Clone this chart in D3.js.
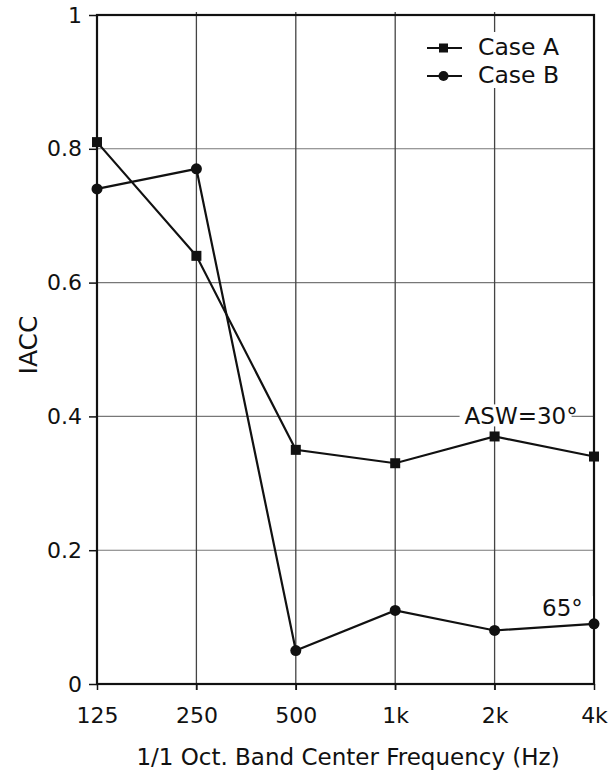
<!DOCTYPE html>
<html>
<head>
<meta charset="utf-8">
<script src="https://cdn.jsdelivr.net/npm/d3@7"></script>
<style>
  body { margin: 0; background: #fff; }
  text { font-family: "DejaVu Sans", "Liberation Sans", Arial, sans-serif; fill: #111; }
</style>
</head>
<body>
<div id="chart"></div>
<script>
// data
var bands = ["125", "250", "500", "1k", "2k", "4k"];
var caseA = [0.81, 0.64, 0.35, 0.33, 0.37, 0.34];
var caseB = [0.74, 0.77, 0.05, 0.11, 0.08, 0.09];
var yTicks = [0, 0.2, 0.4, 0.6, 0.8, 1];
var yTickLabels = ["0", "0.2", "0.4", "0.6", "0.8", "1"];

var w = 609, h = 771,
    margin = {top: 15, right: 15, bottom: 87, left: 97};

var svg = d3.select("#chart").append("svg")
    .attr("width", w)
    .attr("height", h)
    .style("background-color", "white");

var width = w - margin.left - margin.right,
    height = h - margin.top - margin.bottom,
    g = svg.append("g").attr("transform", "translate(" + margin.left + "," + margin.top + ")");

var x = d3.scalePoint().domain(bands).range([0, width]);
var y = d3.scaleLinear().domain([0, 1]).range([height, 0]);

// grid
g.selectAll(".hgrid").data(yTicks.slice(1, 5)).enter().append("line")
    .attr("x1", 0).attr("x2", width)
    .attr("y1", function (d) { return y(d); })
    .attr("y2", function (d) { return y(d); })
    .attr("stroke", "#777").attr("stroke-width", 1.1);

g.selectAll(".vgrid").data(bands.slice(1, 5)).enter().append("line")
    .attr("x1", function (d) { return x(d); })
    .attr("x2", function (d) { return x(d); })
    .attr("y1", -3).attr("y2", height + 6)
    .attr("stroke", "#444").attr("stroke-width", 1.3);

// axes
var yAxis = d3.axisLeft(y).tickValues(yTicks)
    .tickFormat(function (d, i) { return yTickLabels[i]; })
    .tickSize(8).tickPadding(7);
var xAxis = d3.axisBottom(x).tickSize(6).tickPadding(17);

var ay = g.append("g").attr("class", "axisY").call(yAxis);
var ax = g.append("g").attr("class", "axisX")
    .attr("transform", "translate(0," + height + ")").call(xAxis);

[ay, ax].forEach(function (a) {
    a.select(".domain").remove();
    a.selectAll("line").attr("stroke", "#111").attr("stroke-width", 1.5);
    a.selectAll("text").style("font-size", "22px").attr("fill", "#111")
        .style("font-family", "'DejaVu Sans', sans-serif");
});

// frame
g.append("rect")
    .attr("x", 0).attr("y", 0)
    .attr("width", width).attr("height", height)
    .attr("fill", "none").attr("stroke", "#111").attr("stroke-width", 2.2);

// annotations (white box breaks the grid line behind them)
var ann = [
    {text: "ASW=30°", band: "2k", val: 0.40, dx: -30, dy: 8},
    {text: "65°", band: "4k", val: 0.10, dx: -52, dy: -1}
];

var annG = g.selectAll(".ann").data(ann).enter().append("g");
annG.append("rect")
    .attr("x", function (d) { return x(d.band) + d.dx - 5; })
    .attr("y", function (d) { return y(d.val) + d.dy - 20; })
    .attr("width", function (d) { return d.text.length * 14 + 14; })
    .attr("height", 22)
    .attr("fill", "white");
annG.append("text")
    .attr("x", function (d) { return x(d.band) + d.dx; })
    .attr("y", function (d) { return y(d.val) + d.dy; })
    .style("font-size", "23px")
    .text(function (d) { return d.text; });

// series
var line = d3.line()
    .x(function (d, i) { return x(bands[i]); })
    .y(function (d) { return y(d); });

g.append("path").datum(caseA)
    .attr("d", line).attr("fill", "none")
    .attr("stroke", "#111").attr("stroke-width", 2.2);
g.append("path").datum(caseB)
    .attr("d", line).attr("fill", "none")
    .attr("stroke", "#111").attr("stroke-width", 2.2);

g.selectAll(".ptA").data(caseA).enter().append("rect")
    .attr("x", function (d, i) { return x(bands[i]) - 5; })
    .attr("y", function (d) { return y(d) - 5; })
    .attr("width", 10).attr("height", 10)
    .attr("fill", "#111");

g.selectAll(".ptB").data(caseB).enter().append("circle")
    .attr("cx", function (d, i) { return x(bands[i]); })
    .attr("cy", function (d) { return y(d); })
    .attr("r", 5.5)
    .attr("fill", "#111");

// legend
var legend = g.append("g").attr("transform", "translate(" + (427 - margin.left) + "," + (48 - margin.top) + ")");
legend.append("rect").attr("x", -4).attr("y", -16).attr("width", 140).attr("height", 56).attr("fill", "white");
[{name: "Case A", shape: "square"}, {name: "Case B", shape: "circle"}].forEach(function (d, i) {
    var row = legend.append("g").attr("transform", "translate(0," + (i * 28) + ")");
    row.append("line").attr("x1", 0).attr("x2", 35).attr("y1", 0).attr("y2", 0)
        .attr("stroke", "#111").attr("stroke-width", 2);
    if (d.shape == "square") {
        row.append("rect").attr("x", 12).attr("y", -4.5).attr("width", 9).attr("height", 9).attr("fill", "#111");
    } else {
        row.append("circle").attr("cx", 16.5).attr("cy", 0).attr("r", 5).attr("fill", "#111");
    }
    row.append("text").attr("x", 51).attr("y", 7).style("font-size", "23.5px").text(d.name);
});

// axis titles
svg.append("text")
    .attr("x", 348)
    .attr("y", 765)
    .attr("text-anchor", "middle")
    .style("font-size", "23px")
    .text("1/1 Oct. Band Center Frequency (Hz)");

svg.append("text")
    .attr("transform", "translate(37,345) rotate(-90)")
    .attr("text-anchor", "middle")
    .style("font-size", "25px")
    .text("IACC");
</script>
</body>
</html>
